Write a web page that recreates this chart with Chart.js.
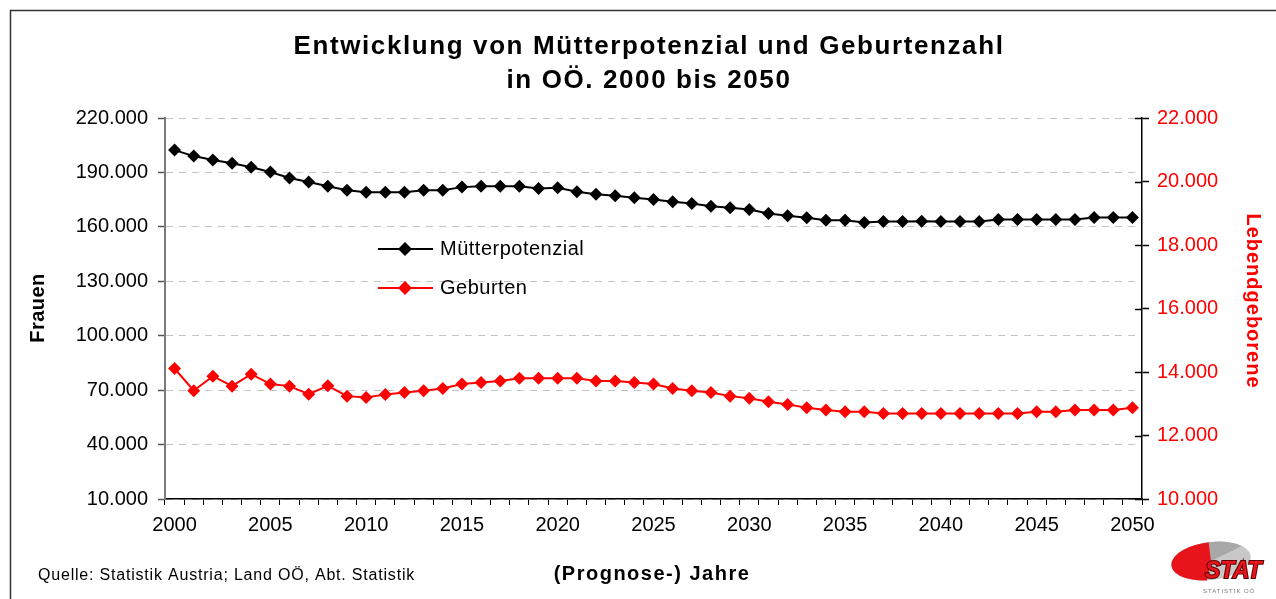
<!DOCTYPE html>
<html>
<head>
<meta charset="utf-8">
<script src="https://cdn.jsdelivr.net/npm/chart.js@4.4.1/dist/chart.umd.min.js"></script>
<style>
  body { margin: 0; background: #fff; }
  #wrap { width: 1276px; height: 599px; position: relative; }
</style>
</head>
<body>
<div id="wrap"><canvas id="mainChart" width="1276" height="599"></canvas></div>
<script>
// Jahre 2000 - 2050
const jahre = ['2000','2001','2002','2003','2004','2005','2006','2007','2008','2009',
  '2010','2011','2012','2013','2014','2015','2016','2017','2018','2019',
  '2020','2021','2022','2023','2024','2025','2026','2027','2028','2029',
  '2030','2031','2032','2033','2034','2035','2036','2037','2038','2039',
  '2040','2041','2042','2043','2044','2045','2046','2047','2048','2049','2050'];
const beschriftung = ['2000','2005','2010','2015','2020','2025','2030','2035','2040','2045','2050'];

// Frauen (linke Achse)
const muetterpotenzial = [202300,199000,196800,195100,192900,190200,186900,184700,182400,180200,
  179100,179100,179100,180200,180200,181900,182400,182400,182400,181200,
  181500,179300,178000,177100,176000,175100,173800,172900,171400,170500,
  169600,167400,166100,165000,163700,163700,162400,162900,162900,163100,
  162900,162900,162900,164100,164100,164100,164100,164100,165200,165200,165200];

// Lebendgeborene (rechte Achse)
const geburten = [14110,13410,13870,13555,13930,13620,13555,13300,13565,13240,
  13200,13295,13355,13410,13480,13620,13670,13720,13800,13800,
  13800,13800,13720,13720,13670,13620,13480,13410,13355,13240,
  13170,13060,12980,12875,12800,12750,12750,12695,12695,12695,
  12695,12695,12695,12695,12695,12750,12750,12800,12800,12800,12875];

const fmt = v => String(v).replace(/\B(?=(\d{3})+(?!\d))/g, '.');
const FONT = 'Liberation Sans, Arial, sans-serif';

const extras = {
  id: 'extras',
  afterDraw(chart) {
    const c = chart.ctx;
    const y1 = chart.scales.y1;
    c.save();
    // Rahmen
    c.strokeStyle = '#333';
    c.lineWidth = 1.5;
    c.beginPath();
    c.moveTo(10.5, 600); c.lineTo(10.5, 10.5); c.lineTo(1276, 10.5);
    c.stroke();

    // Kreuz-Ticks rechte Achse (innen)
    c.strokeStyle = '#000';
    c.lineWidth = 1.5;
    y1.ticks.forEach(t => {
      const py = Math.round(y1.getPixelForValue(t.value)) + 0.5;
      c.beginPath(); c.moveTo(y1.left - 7, py); c.lineTo(y1.left, py); c.stroke();
    });

    // Titel
    c.fillStyle = '#000';
    c.textAlign = 'center';
    c.textBaseline = 'middle';
    c.letterSpacing = '1.6px';
    c.font = 'bold 26px ' + FONT;
    c.fillText('Entwicklung von Mütterpotenzial und Geburtenzahl', 649, 47);
    c.fillText('in OÖ. 2000 bis 2050', 649, 81);

    // Achsentitel
    c.font = 'bold 20px ' + FONT;
    c.letterSpacing = '1.5px';
    c.fillText('(Prognose-) Jahre', 652, 574);
    c.letterSpacing = '0.5px';
    c.save();
    c.translate(38, 308); c.rotate(-Math.PI / 2);
    c.fillText('Frauen', 0, 0);
    c.restore();
    c.save();
    c.fillStyle = '#ff0000';
    c.letterSpacing = '1px';
    c.translate(1253, 301); c.rotate(Math.PI / 2);
    c.fillText('Lebendgeborene', 0, 0);
    c.restore();

    // Quelle
    c.textAlign = 'left';
    c.letterSpacing = '0.8px';
    c.font = '16px ' + FONT;
    c.fillText('Quelle: Statistik Austria; Land OÖ, Abt. Statistik', 38, 576);

    // Legende
    const leg = [['Mütterpotenzial', '#000', 249], ['Geburten', '#ff0000', 288]];
    c.font = '20px ' + FONT;
    c.letterSpacing = '0.5px';
    leg.forEach(([txt, col, ly]) => {
      c.strokeStyle = col; c.fillStyle = col; c.lineWidth = 2;
      c.beginPath(); c.moveTo(378, ly); c.lineTo(433, ly); c.stroke();
      c.beginPath();
      c.moveTo(405, ly - 7); c.lineTo(412, ly); c.lineTo(405, ly + 7); c.lineTo(398, ly);
      c.closePath(); c.fill();
      c.fillStyle = '#000';
      c.fillText(txt, 440, ly);
    });
    c.letterSpacing = '0px';

    // Logo
    c.save();
    c.translate(1211, 561);
    c.rotate(-0.12);
    c.fillStyle = '#c8c8c8';
    c.beginPath(); c.ellipse(0, 0, 40, 19, 0, 0, Math.PI * 2); c.fill();
    c.fillStyle = '#a8a8a8';
    c.beginPath(); c.moveTo(0, 0); c.ellipse(0, 0, 40, 19, 0, -Math.PI * 0.5, -Math.PI * 0.2); c.closePath(); c.fill();
    c.fillStyle = '#e8141c';
    c.beginPath(); c.moveTo(0, 0); c.ellipse(0, 0, 40, 19, 0, Math.PI * 0.55, Math.PI * 1.5); c.closePath(); c.fill();
    c.restore();
    c.font = 'italic bold 23px ' + FONT;
    c.textAlign = 'left';
    c.lineWidth = 2; c.strokeStyle = '#5a0000';
    c.strokeText('STAT', 1205, 572);
    c.fillStyle = '#e8141c';
    c.fillText('STAT', 1205, 572);
    c.font = '6px ' + FONT;
    c.letterSpacing = '1px';
    c.fillStyle = '#777';
    c.fillText('STATISTIK OÖ', 1203, 591);
    c.restore();
  }
};

new Chart(document.getElementById('mainChart'), {
  type: 'line',
  data: {
    labels: jahre,
    datasets: [{
      label: 'Mütterpotenzial',
      data: muetterpotenzial,
      yAxisID: 'y',
      borderColor: '#000',
      backgroundColor: '#000',
      borderWidth: 2,
      pointStyle: 'rectRot',
      pointRadius: 6.5,
      pointBorderWidth: 0,
      tension: 0
    }, {
      label: 'Geburten',
      data: geburten,
      yAxisID: 'y1',
      borderColor: '#ff0000',
      backgroundColor: '#ff0000',
      borderWidth: 2,
      pointStyle: 'rectRot',
      pointRadius: 6.5,
      pointBorderWidth: 0,
      tension: 0
    }]
  },
  options: {
    responsive: false,
    animation: false,
    layout: { padding: { top: 118, left: 0, right: 0, bottom: 0 } },
    plugins: { legend: { display: false }, title: { display: false }, tooltip: { enabled: false } },
    scales: {
      x: {
        type: 'category',
        offset: true,
        grid: { offset: true, drawOnChartArea: false, tickLength: 6, tickColor: '#000', tickWidth: 1 },
        border: { color: '#000', width: 1.5 },
        ticks: {
          autoSkip: false, maxRotation: 0, padding: 8, color: '#000',
          font: { family: FONT, size: 20 },
          callback: function (v) { const l = this.getLabelForValue(v); return beschriftung.includes(l) ? l : ''; }
        },
        afterFit: s => { s.height = 100; }
      },
      y: {
        position: 'left',
        min: 10000, max: 220000,
        grid: { color: '#c4c4c4', lineWidth: 1, tickLength: 7, tickColor: '#555', tickWidth: 1.5 },
        border: { color: '#7a7a7a', width: 2, dash: [7, 6] },
        ticks: { stepSize: 30000, padding: 10, color: '#000', font: { family: FONT, size: 20 }, callback: v => fmt(v) },
        afterFit: s => { s.width = 165; }
      },
      y1: {
        position: 'right',
        min: 10000, max: 22000,
        grid: { drawOnChartArea: false, tickLength: 7, tickColor: '#000', tickWidth: 1.5 },
        border: { color: '#000', width: 1.5 },
        ticks: { stepSize: 2000, padding: 8, color: '#ff0000', font: { family: FONT, size: 20 }, callback: v => fmt(v) },
        afterFit: s => { s.width = 134; }
      }
    }
  },
  plugins: [extras]
});
</script>
</body>
</html>
